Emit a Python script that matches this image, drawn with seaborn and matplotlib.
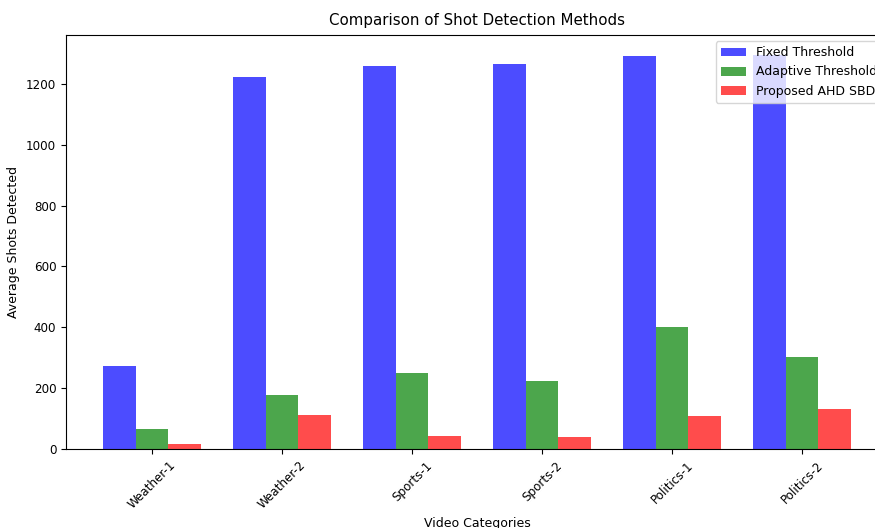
import pandas as pd
import matplotlib
matplotlib.use('Agg')
import matplotlib.pyplot as plt
import seaborn as sns

# data
categories = ['Weather-1', 'Weather-2', 'Sports-1', 'Sports-2', 'Politics-1', 'Politics-2']
fixed_threshold = [274, 1222, 1258, 1266, 1292, 1296]
adaptive_threshold = [66, 178, 250, 222, 401, 303]
proposed_ahd_sbd = [16, 113, 44, 38, 107, 133]
methods = ['Fixed Threshold', 'Adaptive Threshold', 'Proposed AHD SBD']

df = pd.DataFrame({
    'Category': categories * 3,
    'Method': [m for m in methods for _ in categories],
    'Shots': fixed_threshold + adaptive_threshold + proposed_ahd_sbd,
})

plt.rcParams['font.size'] = 9

fig = plt.figure(figsize=(8.75, 5.28), dpi=100)
# the reference is a cropped screenshot: right spine sits just past the image edge
ax = fig.add_axes([66 / 875, 79 / 528, 822 / 875, 414 / 528])

sns.barplot(data=df, x='Category', y='Shots', hue='Method', order=categories,
            hue_order=methods, palette=['blue', 'green', 'red'], saturation=1,
            alpha=0.7, width=0.75, linewidth=0, ax=ax)

ax.set_xlim(-0.6625, 5.6625)
ax.set_title('Comparison of Shot Detection Methods', fontsize=10.8, pad=7.5)
ax.set_xlabel('Video Categories', fontsize=9)
ax.set_ylabel('Average Shots Detected', fontsize=9)
ax.tick_params(labelsize=8.6)
plt.setp(ax.get_xticklabels(), rotation=45)
handles, labels = ax.get_legend_handles_labels()
ax.legend(handles, labels, loc='upper right', fontsize=9)

fig.savefig('out.png', dpi=100)
